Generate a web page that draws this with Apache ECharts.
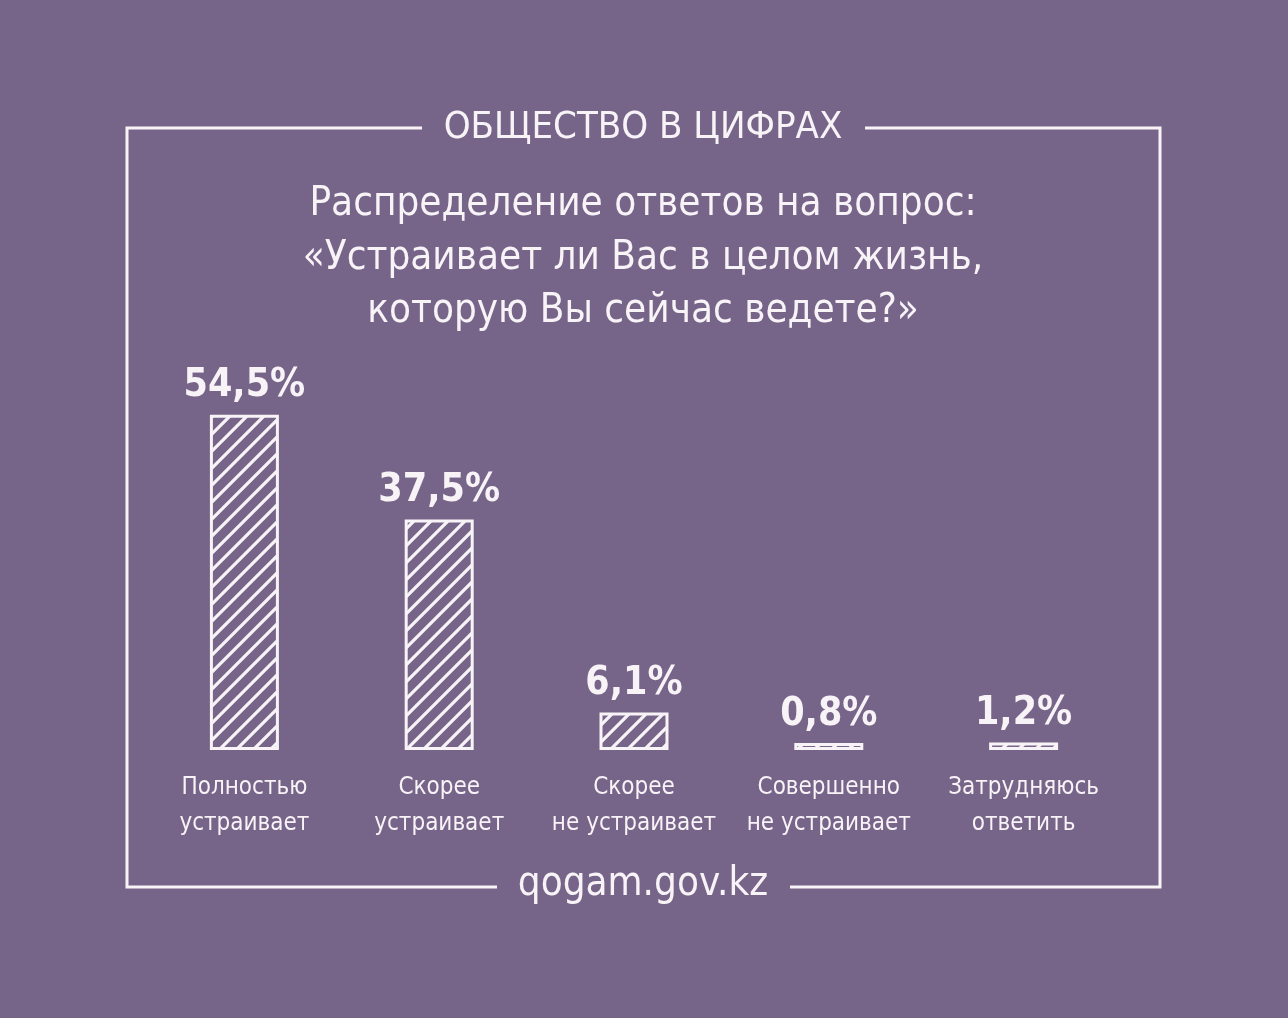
<!DOCTYPE html>
<html>
<head>
<meta charset="utf-8">
<script src="https://cdn.jsdelivr.net/npm/echarts@6/dist/echarts.min.js"></script>
<style>
html,body{margin:0;padding:0;background:#776489;}
#c{width:1288px;height:1018px;}
</style>
</head>
<body>
<div id="c"></div>
<script>
const categories = ['Полностью\nустраивает', 'Скорее\nустраивает', 'Скорее\nне устраивает', 'Совершенно\nне устраивает', 'Затрудняюсь\nответить'];
const values = [54.5, 37.5, 6.1, 0.8, 1.2];
const headerText = 'ОБЩЕСТВО В ЦИФРАХ';
const subtitleLines = ['Распределение ответов на вопрос:', '«Устраивает ли Вас в целом жизнь,', 'которую Вы сейчас ведете?»'];
const footerText = 'qogam.gov.kz';

const FONT = '"DejaVu Sans Condensed", "DejaVu Sans", sans-serif';
const WHITE = '#f7f3f7';
const BG = '#776489';

function hatch() {
  const s = 17;
  const cv = document.createElement('canvas');
  cv.width = s; cv.height = s;
  const ctx = cv.getContext('2d');
  ctx.fillStyle = BG;
  ctx.fillRect(0, 0, s, s);
  ctx.strokeStyle = WHITE;
  ctx.lineWidth = 3.2;
  ctx.beginPath();
  ctx.moveTo(-4, s + 4); ctx.lineTo(s + 4, -4);
  ctx.moveTo(-4, 4); ctx.lineTo(4, -4);
  ctx.moveTo(s - 4, s + 4); ctx.lineTo(s + 4, s - 4);
  ctx.stroke();
  return cv;
}

const chart = echarts.init(document.getElementById('c'));
const frameW = 3;
chart.setOption({
  backgroundColor: BG,
  animation: false,
  grid: { left: 147, width: 974, top: 381, height: 369 },
  xAxis: {
    type: 'category',
    data: categories,
    axisLine: { show: false },
    axisTick: { show: false },
    axisLabel: {
      interval: 0,
      color: WHITE, fontFamily: FONT, fontSize: 24, lineHeight: 36, margin: 20
    }
  },
  yAxis: { type: 'value', min: 0, max: 60, show: false, splitLine: { show: false } },
  series: [{
    type: 'bar',
    data: values,
    barWidth: 69,
    barMinHeight: 7,
    itemStyle: {
      color: { image: hatch(), repeat: 'repeat' },
      borderColor: WHITE,
      borderWidth: 3
    },
    label: {
      show: true, position: 'top', distance: 9,
      color: WHITE, fontFamily: FONT, fontWeight: 'bold', fontSize: 39,
      formatter: p => String(p.value).replace('.', ',') + '%'
    }
  }],
  graphic: [
    { type: 'polyline', shape: { points: [[422, 128], [127, 128], [127, 887], [497, 887]] }, style: { stroke: WHITE, lineWidth: frameW, fill: null } },
    { type: 'polyline', shape: { points: [[865, 128], [1160, 128], [1160, 887], [790, 887]] }, style: { stroke: WHITE, lineWidth: frameW, fill: null } },
    { type: 'text', x: 643, y: 128, style: { text: headerText, fill: WHITE, font: '38px ' + FONT, textAlign: 'center', textVerticalAlign: 'middle' } },
    { type: 'text', x: 643, y: 205, style: { text: subtitleLines[0], fill: WHITE, font: '40px ' + FONT, textAlign: 'center', textVerticalAlign: 'middle' } },
    { type: 'text', x: 643, y: 259, style: { text: subtitleLines[1], fill: WHITE, font: '40px ' + FONT, textAlign: 'center', textVerticalAlign: 'middle' } },
    { type: 'text', x: 643, y: 312, style: { text: subtitleLines[2], fill: WHITE, font: '40px ' + FONT, textAlign: 'center', textVerticalAlign: 'middle' } },
    { type: 'text', x: 643, y: 885, style: { text: footerText, fill: WHITE, font: '40px ' + FONT, textAlign: 'center', textVerticalAlign: 'middle' } }
  ]
});
</script>
</body>
</html>
